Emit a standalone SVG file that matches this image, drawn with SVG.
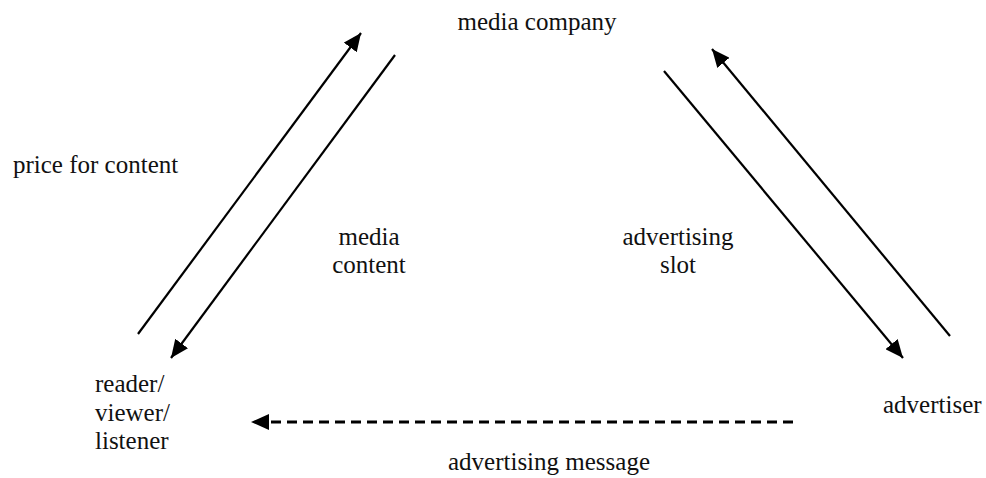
<svg xmlns="http://www.w3.org/2000/svg" width="986" height="478" viewBox="0 0 986 478">
  <style>
    .lbl { font-family: "Liberation Serif", "Times New Roman", serif; font-size: 25px; fill: #111; }
    .mid { text-anchor: middle; }
    .flow { stroke: #000; stroke-width: 2.2; fill: none; }
    .dash { stroke: #000; stroke-width: 3; fill: none; stroke-dasharray: 10 6; }
  </style>
  <defs>
    <marker id="head" markerUnits="userSpaceOnUse" markerWidth="20" markerHeight="16" refX="18" refY="8" orient="auto">
      <path d="M0,0 L18,8 L0,16 Z" fill="#000"/>
    </marker>
  </defs>
  <rect width="986" height="478" fill="#fff"/>

  <g id="connectors">
    <line class="flow" x1="138" y1="334" x2="361" y2="33" marker-end="url(#head)"/>
    <line class="flow" x1="395" y1="55" x2="171" y2="358" marker-end="url(#head)"/>
    <line class="flow" x1="664" y1="71" x2="903" y2="358" marker-end="url(#head)"/>
    <line class="flow" x1="950" y1="336" x2="712" y2="49" marker-end="url(#head)"/>
    <line class="dash" x1="793" y1="422" x2="251" y2="422" marker-end="url(#head)"/>
  </g>

  <g id="media-company">
    <text class="lbl mid" x="537" y="30">media company</text>
  </g>
  <g id="reader">
    <text class="lbl" x="95" y="392">reader/</text>
    <text class="lbl" x="95" y="421">viewer/</text>
    <text class="lbl" x="95" y="449">listener</text>
  </g>
  <g id="advertiser">
    <text class="lbl" x="883" y="413">advertiser</text>
  </g>

  <g id="labels">
    <text class="lbl" x="13" y="173">price for content</text>
    <text class="lbl mid" x="369" y="245">media</text>
    <text class="lbl mid" x="369" y="273">content</text>
    <text class="lbl mid" x="678" y="245">advertising</text>
    <text class="lbl mid" x="678" y="273">slot</text>
    <text class="lbl mid" x="549" y="470">advertising message</text>
  </g>
</svg>
